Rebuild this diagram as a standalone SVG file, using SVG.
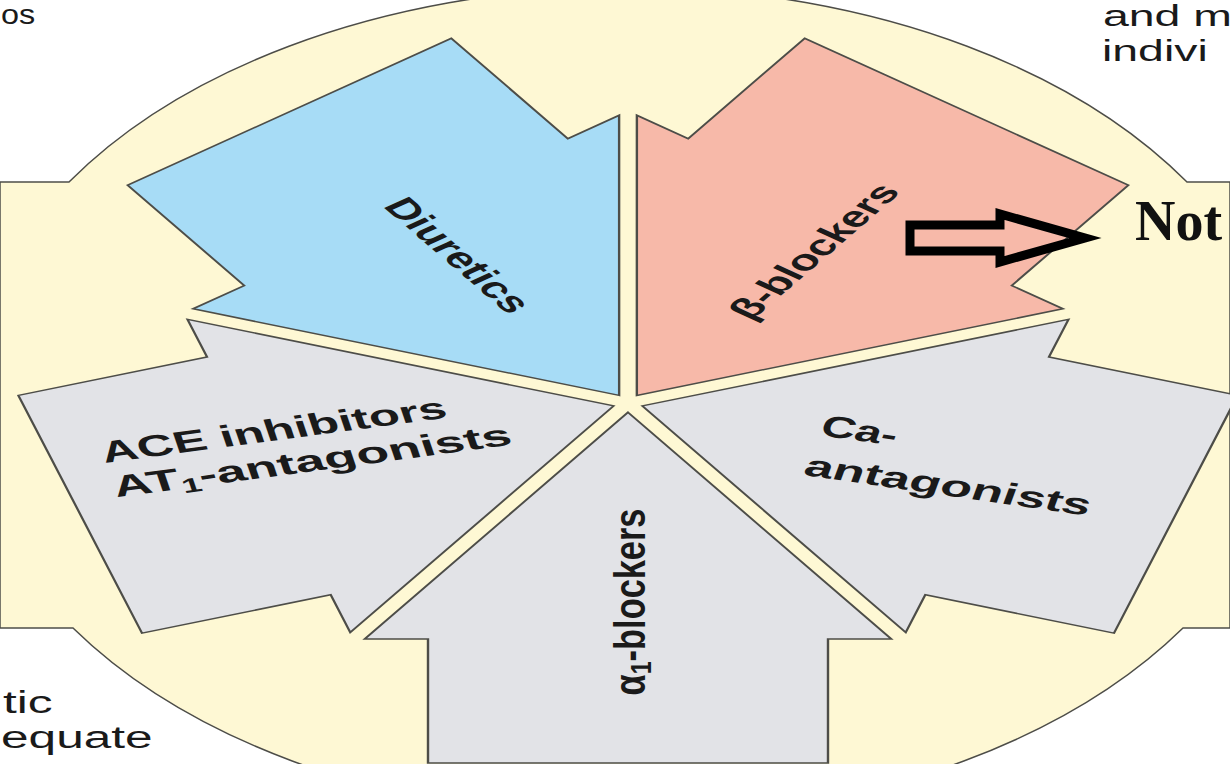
<svg xmlns="http://www.w3.org/2000/svg" width="1230" height="764" viewBox="0 0 1230 764">
<style>
.arrow{stroke:#4d4d48;stroke-width:1.5;stroke-linejoin:miter;vector-effect:non-scaling-stroke}
.blue{fill:#A7DCF6}
.salmon{fill:#F7B9A9}
.grey{fill:#E2E3E7}
.lbl{font-family:"Liberation Sans",Arial,sans-serif;font-weight:bold;fill:#1a1a1a}
.cap{font-family:"Liberation Sans",Arial,sans-serif;fill:#1a1a1a;font-size:29px}
</style>
<defs>
<polygon id="arr" points="9.4,0 236,-164.6 236,-125 360,-125 360,125 236,125 236,164.6"/>
</defs>
<rect width="1230" height="764" fill="#ffffff"/>
<g id="background">
<path d="M0,182 H69 A660,416 0 0 1 1187,182 H1230 V628 H1183 A660,416 0 0 1 73,628 H0 Z" fill="#FEF8D4" stroke="#4d4d48" stroke-width="1.5"/>
</g>
<g id="diuretics">
<use href="#arr" class="arrow blue" transform="translate(628,403) scale(1.6,1) rotate(-126)"/>
<text class="lbl" font-size="28" text-anchor="middle" dominant-baseline="central" textLength="135" lengthAdjust="spacingAndGlyphs" transform="translate(628,403) scale(1.6,1) translate(-106,-148) rotate(54)">Diuretics</text>
</g>
<g id="beta-blockers">
<use href="#arr" class="arrow salmon" transform="translate(628,403) scale(1.6,1) rotate(-54)"/>
<text class="lbl" font-size="28" text-anchor="middle" dominant-baseline="central" textLength="160" lengthAdjust="spacingAndGlyphs" transform="translate(628,403) scale(1.6,1) translate(116,-152) rotate(-54)">β-blockers</text>
</g>
<g id="ca-antagonists">
<use href="#arr" class="arrow grey" transform="translate(628,403) scale(1.6,1) rotate(18)"/>
<g transform="translate(628,403) scale(1.6,1) translate(119,32) rotate(13)">
<text class="lbl" font-size="30" x="0" y="0">Ca-</text>
<text class="lbl" font-size="30" x="-1" y="41" textLength="183" lengthAdjust="spacingAndGlyphs">antagonists</text>
</g>
</g>
<g id="alpha-blockers">
<use href="#arr" class="arrow grey" transform="translate(628,403) scale(1.6,1) rotate(90)"/>
<text class="lbl" font-size="28" text-anchor="middle" textLength="187" lengthAdjust="spacingAndGlyphs" transform="translate(628,403) scale(1.6,1) translate(10.6,199) rotate(-90)">α<tspan font-size="19" dy="4">1</tspan><tspan dy="-4">-blockers</tspan></text>
</g>
<g id="ace-inhibitors">
<use href="#arr" class="arrow grey" transform="translate(628,403) scale(1.6,1) rotate(162)"/>
<g transform="translate(628,403) scale(1.6,1) translate(-327,60) rotate(-12)">
<text class="lbl" font-size="30" x="0" y="0" textLength="220" lengthAdjust="spacingAndGlyphs">ACE inhibitors</text>
<text class="lbl" font-size="30" x="0" y="35" textLength="254" lengthAdjust="spacingAndGlyphs">AT<tspan font-size="20" dy="5">1</tspan><tspan dy="-5">-antagonists</tspan></text>
</g>
</g>
<g id="captions">
<text class="cap" style="font-size:27px" transform="translate(1,24) scale(1.2,1)">os</text>
<text class="cap" transform="translate(1103,26) scale(1.6,1)">and m</text>
<text class="cap" transform="translate(1102,61) scale(1.6,1)">indivi</text>
<text class="cap" style="font-size:31px" transform="translate(3,713) scale(1.6,1)">tic</text>
<text class="cap" style="font-size:31px" transform="translate(1,748) scale(1.6,1)">equate</text>
</g>
<g id="not-label">
<text x="1135" y="240" font-family="Liberation Serif,'Times New Roman',serif" font-weight="bold" font-size="56" fill="#111">Not</text>
</g>
<g id="connectors">
<polygon points="910,225 1000,225 1000,214 1085,238 1000,262 1000,251 910,251" fill="none" stroke="#000" stroke-width="9" stroke-linejoin="miter"/>
</g>
</svg>
